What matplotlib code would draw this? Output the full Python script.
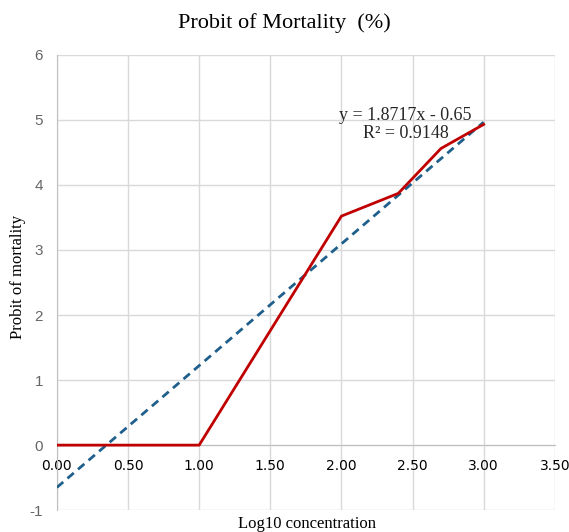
import numpy as np
import matplotlib.pyplot as plt

# data
log_conc = [0.0, 1.0, 2.0, 2.4, 2.7, 3.0]
probit = [0.0, 0.0, 3.52, 3.87, 4.56, 4.93]
slope = 1.8717
intercept = -0.65
r2 = 0.9148

x_ticks = [0, 0.5, 1.0, 1.5, 2.0, 2.5, 3.0, 3.5]
y_ticks = [-1, 0, 1, 2, 3, 4, 5, 6]

serif = ['Liberation Serif', 'DejaVu Serif']
sans = ['Liberation Sans', 'DejaVu Sans']
grid_c = '#d9d9d9'
tick_c = '#666666'

fig = plt.figure(figsize=(5.69, 5.32), dpi=100)
ax = fig.add_axes([0.100, 0.041, 0.875, 0.856])

ax.set_xlim(0, 3.5)
ax.set_ylim(-1, 6)
ax.set_xticks(x_ticks)
ax.set_yticks(y_ticks)
ax.set_xticklabels([f'{v:.2f}' for v in x_ticks], family=sans, fontsize=11, color=tick_c)
ax.set_yticklabels([str(v) for v in y_ticks], family=sans, fontsize=11, color=tick_c)

ax.grid(True, color=grid_c, linewidth=1)
ax.set_axisbelow(True)
for s in ['top', 'right']:
    ax.spines[s].set_visible(False)
ax.spines['bottom'].set_position(('data', 0))
ax.spines['bottom'].set_color('#bfbfbf')
ax.spines['left'].set_color('#bfbfbf')
ax.tick_params(axis='x', length=0, pad=10)
ax.tick_params(axis='y', length=0, pad=10)

# trendline
xt = np.array([0, 3.0])
ax.plot(xt, slope * xt + intercept, color='#1f5f8b', linestyle=(0, (3, 2)), linewidth=2, zorder=3)
ax.plot(log_conc, probit, color='#c00000', linewidth=2, zorder=4)

ax.text(2.45, 4.93, f'y = {slope}x - {abs(intercept)}\nR² = {r2}', family=serif,
        fontsize=13, ha='center', va='center', linespacing=1.1, color='#262626')

fig.suptitle('Probit of Mortality  (%)', family=serif, fontsize=16, y=0.975)
fig.text(0.032, 0.479, 'Probit of mortality', family=serif, fontsize=12,
         rotation=90, ha='center', va='center')
fig.text(0.54, 0.0, 'Log10 concentration', family=serif, fontsize=12, ha='center', va='bottom')

fig.savefig('out.png', dpi=100)
